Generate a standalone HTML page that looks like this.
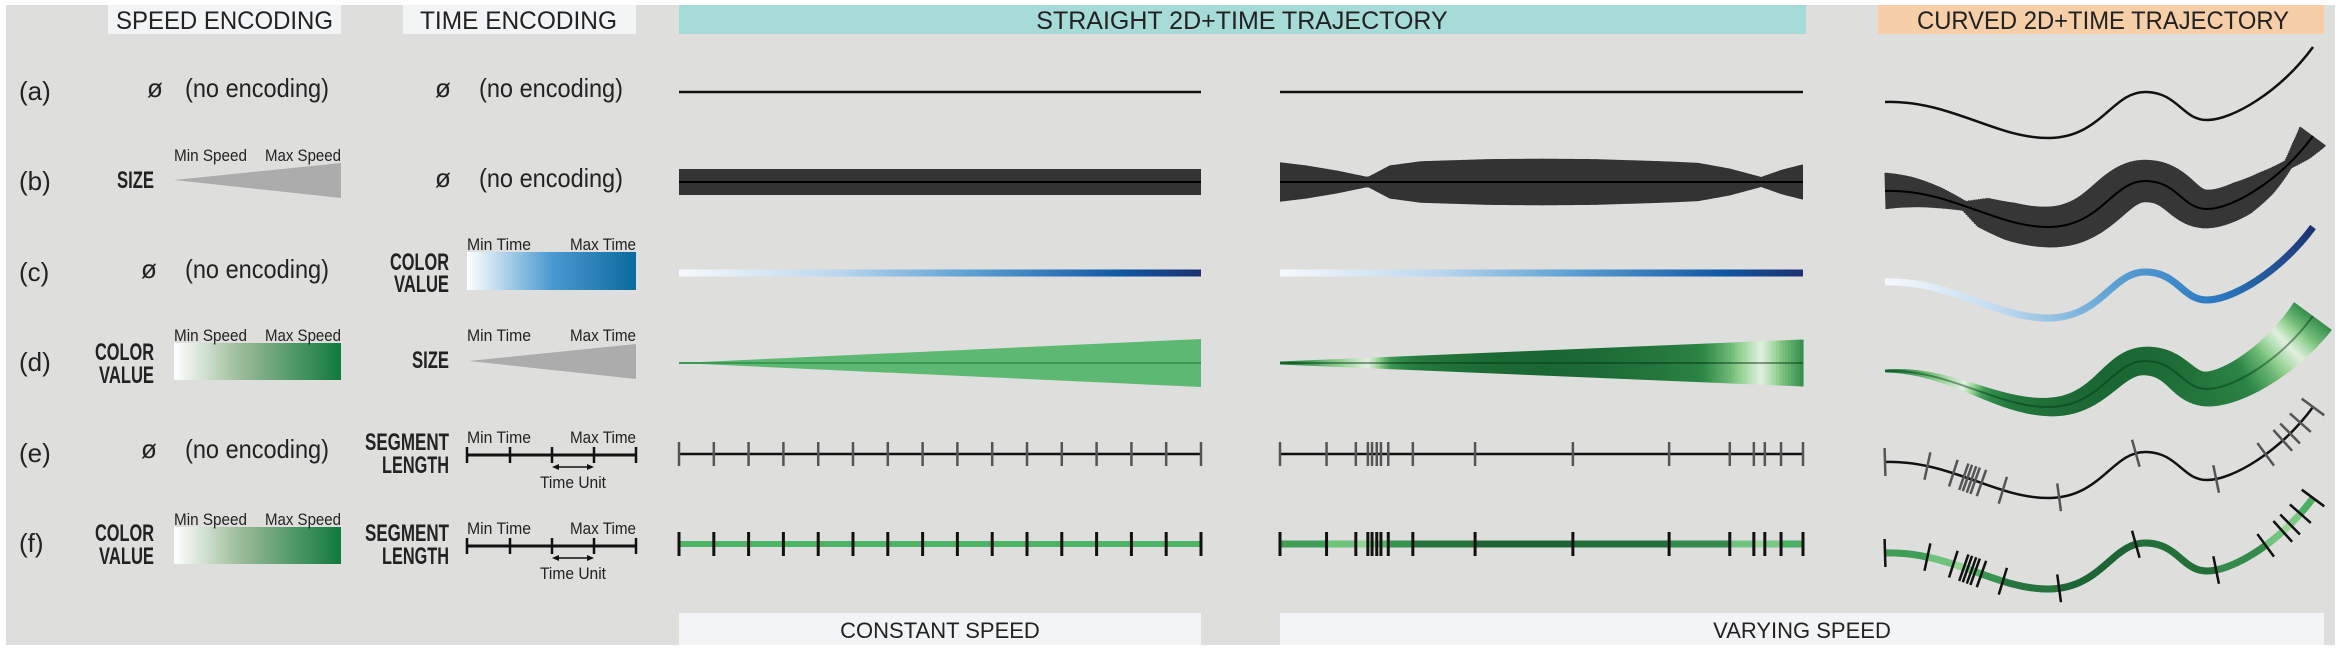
<!DOCTYPE html>
<html><head><meta charset="utf-8"><style>
html,body{margin:0;padding:0;background:#fff;}
svg{display:block;}
text{font-family:"Liberation Sans",sans-serif;fill:#222;}
</style></head><body>
<svg id="fig" width="2340" height="650" viewBox="0 0 2340 650" xmlns="http://www.w3.org/2000/svg">
<defs>
<linearGradient id="gBlue" x1="0" x2="1"><stop offset="0" stop-color="#ffffff"/><stop offset="0.5" stop-color="#4a9ad2"/><stop offset="1" stop-color="#0b6a9e"/></linearGradient>
<linearGradient id="gBlueLine" x1="0" x2="1"><stop offset="0" stop-color="#f6f9fd"/><stop offset="0.3" stop-color="#bcd7ee"/><stop offset="0.55" stop-color="#5ea2d4"/><stop offset="0.85" stop-color="#0f56a3"/><stop offset="1" stop-color="#1e3270"/></linearGradient>
<linearGradient id="gGreen" x1="0" x2="1"><stop offset="0" stop-color="#ffffff"/><stop offset="0.4" stop-color="#9bbb98"/><stop offset="1" stop-color="#107a3c"/></linearGradient>
</defs>
<rect x="6" y="5" width="2329" height="640" fill="#dededc"/>
<g><rect x="108" y="5" width="233" height="29" fill="#f3f4f6"/><text x="116" y="29" font-size="25" textLength="217" lengthAdjust="spacingAndGlyphs">SPEED ENCODING</text></g>
<g><rect x="403" y="5" width="233" height="29" fill="#f3f4f6"/><text x="420" y="29" font-size="25" textLength="197" lengthAdjust="spacingAndGlyphs">TIME ENCODING</text></g>
<g><rect x="679" y="5" width="1127" height="29" fill="#a7dbd7"/><text x="1242" y="29" font-size="25" text-anchor="middle">STRAIGHT 2D+TIME TRAJECTORY</text></g>
<g><rect x="1878" y="5" width="446" height="29" fill="#f6cea7"/><text x="1917" y="29" font-size="25" textLength="372" lengthAdjust="spacingAndGlyphs">CURVED 2D+TIME TRAJECTORY</text></g>
<g><rect x="679" y="613" width="522" height="32" fill="#f3f4f6"/><text x="940" y="638" font-size="22" text-anchor="middle">CONSTANT SPEED</text></g>
<g><rect x="1280" y="613" width="1044" height="32" fill="#f3f4f6"/><text x="1802" y="638" font-size="22" text-anchor="middle">VARYING SPEED</text></g>
<g id="left"></g>
<g id="marks"></g>
<path id="curveRef" d="" fill="none" stroke="none"/>
</svg>
<script>
const rowLabels = ['(a)','(b)','(c)','(d)','(e)','(f)'];
const rowY = [92, 182, 273, 363, 454, 544];
const constTicks = [0,0.0667,0.1333,0.2,0.2667,0.3333,0.4,0.4667,0.5333,0.6,0.6667,0.7333,0.8,0.8667,0.9333,1];
const varTicks = [0,0.089,0.145,0.168,0.176,0.185,0.193,0.207,0.254,0.373,0.56,0.744,0.86,0.906,0.927,0.958,1];
const speedPos = [0,0.05,0.11,0.168,0.21,0.27,0.4,0.5,0.6,0.73,0.8,0.86,0.92,0.96,1];
const speedVal = [0.75,0.6,0.35,0.05,0.6,0.8,0.9,0.92,0.9,0.8,0.72,0.45,0.05,0.4,0.65];

const NS='http://www.w3.org/2000/svg';
const left=document.getElementById('left');
const marks=document.getElementById('marks');
function el(tag,attrs,parent){const e=document.createElementNS(NS,tag);for(const k in attrs)e.setAttribute(k,attrs[k]);(parent||marks).appendChild(e);return e;}
function txt(x,y,s,size,extra,parent){const t=el('text',Object.assign({x:x,y:y,'font-size':size},extra||{}),parent||left);t.textContent=s;return t;}
function speedAt(f){for(let i=0;i<speedPos.length-1;i++){if(f<=speedPos[i+1]){const t=(f-speedPos[i])/(speedPos[i+1]-speedPos[i]);return speedVal[i]+t*(speedVal[i+1]-speedVal[i]);}}return speedVal[speedVal.length-1];}
function hex(c){return [parseInt(c.slice(1,3),16),parseInt(c.slice(3,5),16),parseInt(c.slice(5,7),16)];}
function lerpColor(stops,t){t=Math.max(0,Math.min(1,t));const n=stops.length-1;const i=Math.min(n-1,Math.floor(t*n));const u=t*n-i;const a=hex(stops[i]),b=hex(stops[i+1]);return 'rgb('+a.map((v,k)=>Math.round(v+(b[k]-v)*u)).join(',')+')';}
const greenSpeed=['#f0f6ee','#8fcf8e','#2f8a48','#145c2c'];
const greenSeg=['#a8dca2','#4cb464','#14532a'];
const blueTime=['#f6f9fd','#c0daee','#5ea2d4','#2a78c0','#1e3270'];

const Lbold={'font-weight':'bold','lengthAdjust':'spacingAndGlyphs'};
rowLabels.forEach((s,i)=>{const t=txt(19,rowY[i]+8,s,26);});
function noEnc(xø,x,y){txt(xø,y,'ø',26);txt(x,y,'(no encoding)',26,{textLength:144,lengthAdjust:'spacingAndGlyphs'});}
noEnc(147,185,97);noEnc(435,479,97);
noEnc(435,479,187);
noEnc(141,185,278);noEnc(141,185,458);
txt(117,188,'SIZE',24,Object.assign({textLength:37},Lbold));
el('polygon',{points:'174,180 341,163 341,198',fill:'#acacac',},left);
txt(174,161,'Min Speed',17,{textLength:73,lengthAdjust:'spacingAndGlyphs'});txt(265,161,'Max Speed',17,{textLength:76,lengthAdjust:'spacingAndGlyphs'});
txt(390,270,'COLOR',24,Object.assign({textLength:59},Lbold));txt(394,292,'VALUE',24,Object.assign({textLength:55},Lbold));
el('rect',{x:467,y:252,width:169,height:38,fill:'url(#gBlue)',},left);
txt(467,250,'Min Time',17,{textLength:64,lengthAdjust:'spacingAndGlyphs'});txt(570,250,'Max Time',17,{textLength:66,lengthAdjust:'spacingAndGlyphs'});
[[341,360,383],[525,541,564]].forEach(([ty,y1,y2])=>{
 txt(95,y1,'COLOR',24,Object.assign({textLength:59},Lbold));txt(99,y2,'VALUE',24,Object.assign({textLength:55},Lbold));
 el('rect',{x:174,y:ty+2,width:167,height:37,fill:'url(#gGreen)',},left);
 txt(174,ty,'Min Speed',17,{textLength:73,lengthAdjust:'spacingAndGlyphs'});txt(265,ty,'Max Speed',17,{textLength:76,lengthAdjust:'spacingAndGlyphs'});
});
txt(412,368,'SIZE',24,Object.assign({textLength:37},Lbold));
el('polygon',{points:'469,361 636,344 636,379',fill:'#acacac',},left);
txt(467,341,'Min Time',17,{textLength:64,lengthAdjust:'spacingAndGlyphs'});txt(570,341,'Max Time',17,{textLength:66,lengthAdjust:'spacingAndGlyphs'});
[455,546].forEach(y=>{
 txt(365,y-5,'SEGMENT',24,Object.assign({textLength:84},Lbold));txt(382,y+18,'LENGTH',24,Object.assign({textLength:67},Lbold));
 txt(467,y-12,'Min Time',17,{textLength:64,lengthAdjust:'spacingAndGlyphs'});txt(570,y-12,'Max Time',17,{textLength:66,lengthAdjust:'spacingAndGlyphs'});
 el('line',{x1:467,y1:y,x2:636,y2:y,stroke:'#111','stroke-width':3,},left);
 [467,510,552,594,636].forEach(x=>el('line',{x1:x,y1:y-8,x2:x,y2:y+8,stroke:'#111','stroke-width':2.5},left));
 el('line',{x1:556,y1:y+12,x2:590,y2:y+12,stroke:'#111','stroke-width':1.5,},left);
 el('polygon',{points:`552,${y+12} 559,${y+9} 559,${y+15}`,fill:'#111'},left);
 el('polygon',{points:`594,${y+12} 587,${y+9} 587,${y+15}`,fill:'#111'},left);
 txt(540,y+33,'Time Unit',17,{textLength:66,lengthAdjust:'spacingAndGlyphs'});
});

const CX0=679,CX1=1201,VX0=1280,VX1=1803;
const cx=f=>CX0+f*(CX1-CX0), vx=f=>VX0+f*(VX1-VX0);
let e;
e=el('line',{x1:CX0,y1:rowY[0],x2:CX1,y2:rowY[0],stroke:'#111','stroke-width':2.5});

e=el('line',{x1:VX0,y1:rowY[0],x2:VX1,y2:rowY[0],stroke:'#111','stroke-width':2.5});

e=el('rect',{x:CX0,y:rowY[1]-13,width:CX1-CX0,height:26,fill:'#333'});

el('line',{x1:CX0,y1:rowY[1],x2:CX1,y2:rowY[1],stroke:'#000','stroke-width':2});
{const N=200,up=[],dn=[];for(let i=0;i<=N;i++){const f=i/N,h=4+21*speedAt(f);up.push(vx(f)+','+(rowY[1]-h));dn.unshift(vx(f)+','+(rowY[1]+h));}
 e=el('polygon',{points:up.concat(dn).join(' '),fill:'#333'});
 }
el('line',{x1:VX0,y1:rowY[1],x2:VX1,y2:rowY[1],stroke:'#000','stroke-width':2});
e=el('rect',{x:CX0,y:rowY[2]-3.5,width:CX1-CX0,height:7,fill:'url(#gBlueLine)'});

e=el('rect',{x:VX0,y:rowY[2]-3.5,width:VX1-VX0,height:7,fill:'url(#gBlueLine)'});

e=el('polygon',{points:`${CX0},${rowY[3]} ${CX1},${rowY[3]-24} ${CX1},${rowY[3]+24}`,fill:'#5cb873'});

el('line',{x1:CX0,y1:rowY[3],x2:CX1,y2:rowY[3],stroke:'#3a9a54','stroke-width':2});
{const N=175;for(let i=0;i<N;i++){const f=(i+0.5)/N,h=1.5+22*f;const r=el('rect',{x:vx(i/N),y:rowY[3]-h,width:(VX1-VX0)/N+0.6,height:2*h,fill:lerpColor(greenSpeed,speedAt(f))});
 }}
el('line',{x1:VX0,y1:rowY[3],x2:VX1,y2:rowY[3],stroke:'rgba(0,50,20,0.45)','stroke-width':2});
el('line',{x1:CX0,y1:rowY[4],x2:CX1,y2:rowY[4],stroke:'#111','stroke-width':2.5});
constTicks.forEach(f=>{const t=el('line',{x1:cx(f),y1:rowY[4]-12,x2:cx(f),y2:rowY[4]+12,stroke:'#555','stroke-width':2.5});});
el('line',{x1:VX0,y1:rowY[4],x2:VX1,y2:rowY[4],stroke:'#111','stroke-width':2.5});
varTicks.forEach(f=>{const t=el('line',{x1:vx(f),y1:rowY[4]-12,x2:vx(f),y2:rowY[4]+12,stroke:'#555','stroke-width':2.5});});
el('line',{x1:CX0,y1:rowY[5],x2:CX1,y2:rowY[5],stroke:'#4cb464','stroke-width':6});
constTicks.forEach(f=>{const t=el('line',{x1:cx(f),y1:rowY[5]-12,x2:cx(f),y2:rowY[5]+12,stroke:'#111','stroke-width':3});});
for(let i=0;i<varTicks.length-1;i++){const m=(varTicks[i]+varTicks[i+1])/2;const s=el('line',{x1:vx(varTicks[i]),y1:rowY[5],x2:vx(varTicks[i+1]),y2:rowY[5],stroke:lerpColor(greenSeg,speedAt(m)),'stroke-width':7});
 }
varTicks.forEach(f=>{const t=el('line',{x1:vx(f),y1:rowY[5]-12,x2:vx(f),y2:rowY[5]+12,stroke:'#111','stroke-width':3});});

const curveStart=[102,191,282,371,462,553];
const ref=document.getElementById('curveRef');
ref.setAttribute('d','M1885,0 C1950,-2 1995,36 2048,36 S2112,-10 2145,-10 S2182,18 2207,18 S2280,-10 2313,-55');
const L=ref.getTotalLength();
function pt(f,y0){const p=ref.getPointAtLength(f*L);const q=ref.getPointAtLength(Math.min(L,f*L+0.5));const r=ref.getPointAtLength(Math.max(0,f*L-0.5));let dx=q.x-r.x,dy=q.y-r.y;const m=Math.hypot(dx,dy)||1;return {x:p.x,y:p.y+y0,nx:-dy/m,ny:dx/m};}
function quad(A,B,h){return `${A.x+A.nx*h},${A.y+A.ny*h} ${B.x+B.nx*h},${B.y+B.ny*h} ${B.x-B.nx*h},${B.y-B.ny*h} ${A.x-A.nx*h},${A.y-A.ny*h}`;}
function ribbon(y0,N,hw,col,name,a,b){a=a||0;b=(b===undefined)?1:b;for(let i=0;i<N;i++){const f0=a+(b-a)*i/N,f1=a+(b-a)*Math.min(1,(i+1.6)/N),fm=a+(b-a)*(i+0.5)/N;
 const p=el('polygon',{points:quad(pt(f0,y0),pt(f1,y0),hw(fm)),fill:col(fm)});
 }}
function centre(y0,stroke,w,name){const p=el('path',{d:ref.getAttribute('d'),fill:'none',stroke:stroke,'stroke-width':w,transform:`translate(0,${y0})`});}
function cticks(y0,ticks,stroke,name){ticks.forEach(f=>{const p=pt(f,y0);const t=el('line',{x1:p.x+p.nx*14,y1:p.y+p.ny*14,x2:p.x-p.nx*14,y2:p.y-p.ny*14,stroke:stroke,'stroke-width':2.5});});}
centre(curveStart[0],'#111',2.5,'curved-a-line');
ribbon(curveStart[1],220,f=>4+19*speedAt(f),()=>'#363636','curved-b-ribbon');
centre(curveStart[1],'#000',2,'curved-b-centre');
ribbon(curveStart[2],200,()=>3.5,f=>lerpColor(blueTime,f),'curved-c-ribbon');
ribbon(curveStart[3],200,f=>1.5+22*f,f=>lerpColor(greenSpeed,speedAt(f)),'curved-d-ribbon');
centre(curveStart[3],'rgba(0,50,20,0.45)',2,'curved-d-centre');
centre(curveStart[4],'#111',2.5,'curved-e-line');
cticks(curveStart[4],varTicks,'#555','curved-e-tick');
for(let i=0;i<varTicks.length-1;i++){const a=varTicks[i],b=varTicks[i+1];const c=lerpColor(greenSeg,speedAt((a+b)/2));
 ribbon(curveStart[5],Math.max(2,Math.round((b-a)*200)),()=>3.5,()=>c,'curved-f-segment',a,b);}
cticks(curveStart[5],varTicks,'#111','curved-f-tick');
</script>
</body></html>
